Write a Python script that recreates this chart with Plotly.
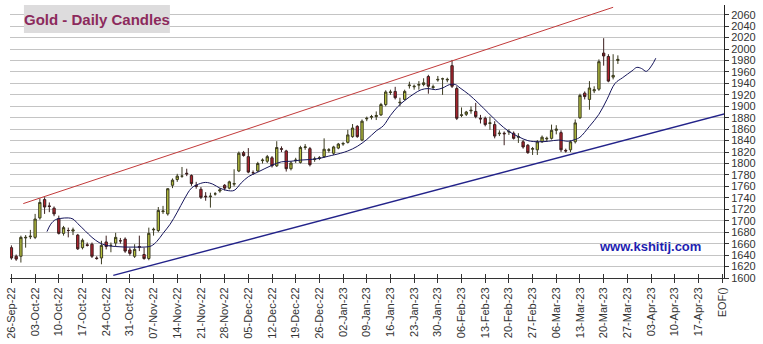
import plotly.graph_objects as go

# ---------------- data ----------------
opens = [1653,1638,1638,1670,1672,1671,1705,1737,1726,1722,
         1704,1678,1683,1682,1675,1653,1658,1659,1635,1635,
         1663,1657,1661,1665,1668,1649,1638,1655,1641,1634,
         1684,1683,1716,1712,1762,1772,1778,1783,1779,1762,
         1755,1743,1742,1747,1752,1762,1757,1764,1787,1819,
         1812,1784,1787,1805,1804,1810,1796,1826,1822,1791,
         1805,1802,1828,1826,1807,1809,1812,1823,1818,1827,
         1834,1837,1847,1865,1841,1878,1881,1882,1885,1903,
         1924,1926,1906,1912,1936,1934,1937,1938,1952,1933,
         1946,1948,1946,1971,1931,1884,1886,1892,1891,1879,
         1879,1870,1868,1852,1853,1855,1853,1846,1838,1832,
         1825,1824,1838,1843,1844,1858,1854,1823,1824,1838,
         1880,1923,1912,1927,1930,1993,1987,1951,1980]
highs = [1657,1641,1674,1675,1684,1712,1739,1741,1732,1725,
         1709,1691,1688,1688,1677,1669,1662,1662,1638,1665,
         1674,1662,1679,1670,1671,1653,1659,1674,1653,1688,
         1688,1724,1726,1757,1774,1782,1794,1791,1781,1768,
         1759,1750,1749,1750,1757,1764,1770,1790,1821,1822,
         1827,1788,1803,1809,1815,1813,1839,1830,1824,1804,
         1810,1831,1834,1829,1812,1813,1844,1827,1831,1836,
         1838,1859,1869,1867,1877,1882,1885,1891,1906,1928,
         1929,1934,1915,1929,1943,1938,1944,1949,1955,1938,
         1953,1950,1950,1981,1935,1898,1892,1900,1906,1885,
         1882,1882,1874,1858,1856,1860,1856,1853,1841,1834,
         1829,1841,1849,1847,1868,1867,1858,1826,1840,1877,
         1922,1926,1944,1935,1982,2019,1991,1991,1989]
lows = [1632,1630,1627,1653,1668,1668,1702,1712,1715,1708,
        1676,1674,1671,1675,1649,1650,1655,1635,1632,1624,
        1650,1645,1655,1660,1644,1639,1635,1647,1632,1631,
        1674,1680,1712,1709,1757,1768,1775,1778,1761,1756,
        1738,1735,1723,1744,1749,1753,1755,1760,1785,1812,
        1783,1780,1785,1800,1801,1793,1794,1820,1786,1788,
        1801,1800,1824,1795,1803,1806,1810,1819,1815,1825,
        1831,1835,1845,1845,1839,1874,1877,1876,1883,1900,
        1920,1912,1900,1910,1931,1929,1929,1935,1922,1929,
        1943,1920,1942,1932,1876,1881,1883,1887,1879,1870,
        1865,1859,1844,1848,1832,1850,1842,1836,1826,1817,
        1815,1815,1836,1839,1842,1851,1820,1819,1820,1835,
        1878,1912,1894,1923,1927,1971,1942,1947,1974]
closes = [1635,1633,1671,1671,1673,1703,1732,1724,1725,1712,
          1678,1688,1683,1684,1651,1666,1657,1638,1634,1657,
          1655,1657,1671,1665,1647,1643,1650,1654,1634,1678,
          1685,1718,1717,1756,1771,1778,1778,1782,1765,1760,
          1741,1742,1743,1747,1754,1757,1768,1765,1818,1814,
          1785,1784,1800,1806,1812,1796,1828,1825,1791,1801,
          1806,1828,1829,1798,1808,1810,1825,1824,1829,1834,
          1835,1850,1862,1847,1874,1879,1882,1884,1903,1925,
          1925,1915,1907,1926,1937,1935,1938,1941,1935,1934,
          1947,1948,1947,1935,1879,1885,1890,1893,1882,1878,
          1868,1871,1848,1853,1852,1856,1844,1847,1829,1819,
          1826,1838,1846,1844,1858,1860,1824,1822,1838,1871,
          1919,1917,1932,1929,1978,1988,1944,1954,1982]

# displaced moving average (trading-day position, price)
ma_x = [7.5, 8.3, 9.3, 10.3, 12, 13, 14, 15.5, 17, 18.5, 20, 22, 24, 26, 28,
        29.5, 30.7, 32, 33.5, 35, 36.5, 38, 39.5, 41, 42.5, 44, 45.5, 47,
        48.5, 50, 52, 55, 57, 59, 61, 63, 65, 67, 69.5, 71, 73, 75, 77, 78.5,
        80, 81.5, 83, 85, 86.5, 88, 89.5, 91, 92.5, 93.7, 94.7, 96.5, 98.5,
        100.7, 102.8, 105, 107, 109, 111.3, 113.4, 115.5, 117.5, 119, 120,
        122, 124, 125.7, 127.4, 129, 131, 132, 133, 134, 135.2, 136]
ma_y = [1681, 1694, 1702, 1704, 1705, 1703, 1695, 1683, 1671, 1662, 1657,
        1655, 1654, 1654, 1654, 1656, 1664, 1678, 1694, 1715, 1738, 1757,
        1764, 1767, 1764, 1757, 1753, 1753, 1766, 1777, 1785, 1797, 1803,
        1804, 1806, 1807, 1809, 1813, 1818, 1822, 1830, 1842, 1857, 1866,
        1884, 1899, 1910, 1922, 1929, 1931, 1929, 1932, 1938, 1938, 1932,
        1921, 1906, 1888, 1871, 1856, 1847, 1840, 1838, 1839, 1841, 1839,
        1842, 1846, 1865, 1886, 1912, 1940, 1950, 1962, 1968, 1966, 1961,
        1972, 1984]

# trend lines (two end points each)
upper_x = [2.5, 127]
upper_y = [1730, 2073]
lower_x = [21.5, 151]
lower_y = [1604.5, 1888]

tick_labels = ["26-Sep-22", "03-Oct-22", "10-Oct-22", "17-Oct-22", "24-Oct-22",
               "31-Oct-22", "07-Nov-22", "14-Nov-22", "21-Nov-22", "28-Nov-22",
               "05-Dec-22", "12-Dec-22", "19-Dec-22", "26-Dec-22", "02-Jan-23",
               "09-Jan-23", "16-Jan-23", "23-Jan-23", "30-Jan-23", "06-Feb-23",
               "13-Feb-23", "20-Feb-23", "27-Feb-23", "06-Mar-23", "13-Mar-23",
               "20-Mar-23", "27-Mar-23", "03-Apr-23", "10-Apr-23", "17-Apr-23",
               "EOF()"]
days_per_week = 5
y_ticks = list(range(1600, 2061, 20))

# ---------------- figure ----------------
xs = list(range(len(opens)))
tick_pos = [i * days_per_week for i in range(len(tick_labels))]

fig = go.Figure()
fig.add_trace(go.Scatter(x=upper_x, y=upper_y, mode="lines",
                         line=dict(color="#c23a3a", width=1), hoverinfo="skip"))
fig.add_trace(go.Scatter(x=lower_x, y=lower_y, mode="lines",
                         line=dict(color="#23238a", width=1.4), hoverinfo="skip"))
fig.add_trace(go.Candlestick(
    x=xs, open=opens, high=highs, low=lows, close=closes,
    increasing=dict(fillcolor="#b6c13c", line=dict(color="#3b3b20", width=1)),
    decreasing=dict(fillcolor="#b3222e", line=dict(color="#3b1e1e", width=1)),
    whiskerwidth=0, hoverinfo="skip"))
fig.add_trace(go.Scatter(x=ma_x, y=ma_y, mode="lines", line_shape="spline",
                         line=dict(color="#16165c", width=1), hoverinfo="skip"))
# helper trace for the inner half of the x ticks
fig.add_trace(go.Scatter(x=[0], y=[1600], xaxis="x2", mode="markers",
                         marker=dict(opacity=0), hoverinfo="skip"))

font = "Liberation Sans, Arial, sans-serif"
fig.update_layout(
    width=763, height=344,
    margin=dict(l=5, r=39, t=5, b=66),
    paper_bgcolor="white", plot_bgcolor="white",
    showlegend=False,
    font=dict(family=font, size=11, color="#333333"),
    xaxis=dict(range=[-0.3, 150.4], tickmode="array", tickvals=tick_pos,
               ticktext=tick_labels, tickangle=-90, ticks="outside",
               ticklen=4, tickcolor="#333333", showgrid=False, zeroline=False,
               showline=True, linecolor="#333333", linewidth=1,
               rangeslider=dict(visible=False),
               tickfont=dict(family=font, size=11, color="#333333")),
    xaxis2=dict(range=[-0.3, 150.4], overlaying="x", side="bottom",
                tickmode="array", tickvals=tick_pos, ticks="inside",
                ticklen=4, tickcolor="#333333", showticklabels=False,
                showgrid=False, zeroline=False, showline=False),
    yaxis=dict(range=[1600, 2077], side="right", tickmode="array",
               tickvals=y_ticks, ticks="outside", ticklen=4,
               tickcolor="#333333", showgrid=True, gridcolor="#c4c4c4",
               gridwidth=1, zeroline=False, showline=True,
               linecolor="#222222", linewidth=1,
               tickfont=dict(family=font, size=11, color="#333333")),
)

fig.add_shape(type="rect", xref="paper", yref="paper",
              x0=0.0195, x1=0.224, y0=0.897, y1=1.0,
              fillcolor="#dddcdd", line=dict(width=0), layer="above")
fig.add_annotation(text="<b>Gold - Daily Candles</b>", xref="paper", yref="paper",
                   x=0.1217, y=0.9485, xanchor="center", yanchor="middle",
                   showarrow=False,
                   font=dict(family=font, size=15, color="#8c2a5c"))
fig.add_annotation(text="<b>www.kshitij.com</b>", xref="paper", yref="paper",
                   x=0.897, y=0.117, xanchor="center", yanchor="middle",
                   showarrow=False,
                   font=dict(family=font, size=13, color="#1d1db0"))

fig.write_html("out.html")
